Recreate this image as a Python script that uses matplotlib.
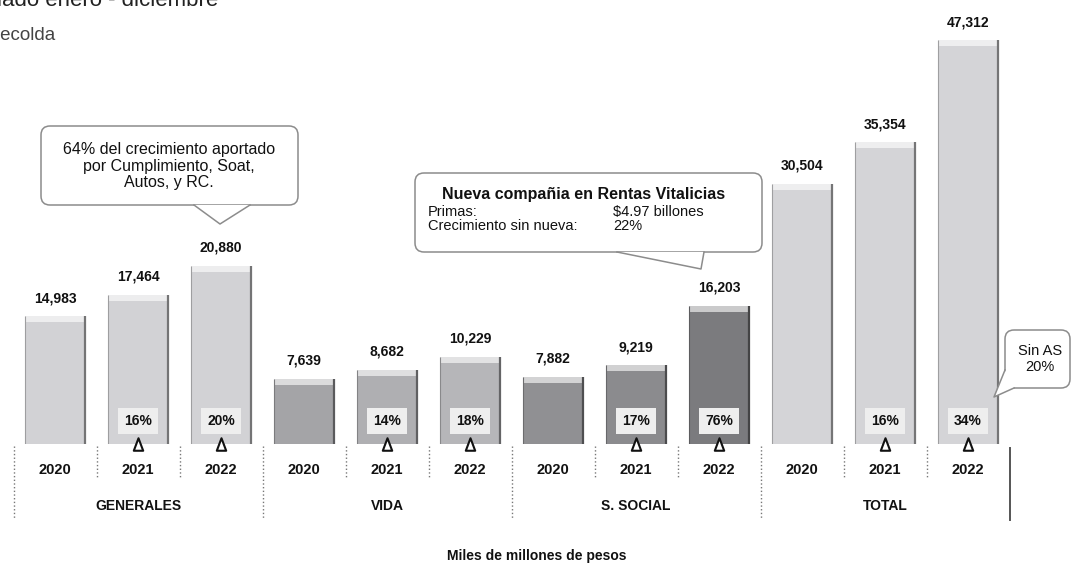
import numpy as np
import matplotlib
matplotlib.use("Agg")
import matplotlib.pyplot as plt
from matplotlib.patches import FancyBboxPatch, Polygon
from matplotlib.path import Path
from matplotlib.transforms import blended_transform_factory
from matplotlib.colors import to_rgb

# ── Datos (miles de millones de pesos) ───────────────────────────────────────
anios = ["2020", "2021", "2022"]
ramos = ["GENERALES", "VIDA", "S. SOCIAL", "TOTAL"]

generales = [14983, 17464, 20880]
vida      = [7639, 8682, 10229]
s_social  = [7882, 9219, 16203]
total     = [30504, 35354, 47312]

# crecimiento anual (%) para 2021 y 2022
crec_generales = [16, 20]
crec_vida      = [14, 18]
crec_s_social  = [17, 76]
crec_total     = [16, 34]

valores = generales + vida + s_social + total
crecimiento = ([None] + crec_generales + [None] + crec_vida +
               [None] + crec_s_social + [None] + crec_total)
x = np.arange(len(valores))

colores = (["#d2d2d5"] * 3 +
           ["#a4a4a7", "#afafb2", "#b6b6b9"] +
           ["#909093", "#8b8b8e", "#7b7b7e"] +
           ["#d4d4d7"] * 3)

NARROW = ["Liberation Sans Narrow", "Liberation Sans", "DejaVu Sans"]
ARIAL  = ["Liberation Sans", "DejaVu Sans"]


def mezcla(c, otro, t):
    a, b = np.array(to_rgb(c)), np.array(to_rgb(otro))
    return tuple(a * (1 - t) + b * t)


W, H = 1073, 567
BASE = 444          # línea base de las barras (px desde arriba)
PX_X = 83           # separación entre barras en px
PX_POR_UNIDAD = 0.008539

fig = plt.figure(figsize=(W / 100, H / 100), dpi=100)

# ejes de las barras
ax = fig.add_axes([0, (H - BASE) / H, 1, BASE / H])
ax.set_xlim(-55 / PX_X, (W - 55) / PX_X)
ax.set_ylim(0, BASE / PX_POR_UNIDAD)
ax.axis("off")

# capa superior en pixeles para textos, tabla y globos
ov = fig.add_axes([0, 0, 1, 1], zorder=3)
ov.set_xlim(0, W)
ov.set_ylim(H, 0)
ov.axis("off")
ov.patch.set_alpha(0)

# ── Barras con efecto de relieve ─────────────────────────────────────────────
ancho = 0.72
valores_arr = np.array(valores, dtype=float)
ax.bar(x, valores_arr, width=ancho, color=colores, edgecolor="none", zorder=2)
tapa = 700
ax.bar(x, tapa, bottom=valores_arr - tapa, width=ancho,
       color=[mezcla(c, "white", 0.6) for c in colores], edgecolor="none", zorder=3)
ax.vlines(x + ancho / 2, 0, valores_arr,
          colors=[mezcla(c, "black", 0.45) for c in colores], lw=1.6, zorder=4)
ax.vlines(x - ancho / 2, 0, valores_arr,
          colors=[mezcla(c, "black", 0.25) for c in colores], lw=0.8, zorder=4)

for xi, v in zip(x, valores):
    ax.annotate(f"{v:,}", (xi, v), xytext=(0, 18), textcoords="offset pixels",
                ha="center", va="center", fontsize=10, fontweight="bold",
                family=NARROW, color="#111111", annotation_clip=False)

# triángulo "delta" angosto, solo contorno
delta = Path([(0, 1), (-0.75, -1), (0.75, -1), (0, 1)],
             [Path.MOVETO, Path.LINETO, Path.LINETO, Path.CLOSEPOLY])
idx = [i for i, c in enumerate(crecimiento) if c is not None]
ax.plot(x[idx], np.zeros(len(idx)), ls="none", marker=delta, ms=9,
        mfc="white", mec="#111111", mew=1.5, clip_on=False, zorder=6)

for xi, c in zip(x, crecimiento):
    if c is None:
        continue
    ax.annotate(f"{c}%", (xi, 0), xytext=(0, 23), textcoords="offset pixels",
                ha="center", va="center", fontsize=10, fontweight="bold",
                family=NARROW, color="#111111", zorder=6,
                bbox=dict(boxstyle="square,pad=0.45", fc="#eeeeee", ec="none"))

# ── Tabla de años y ramos ────────────────────────────────────────────────────
tr = blended_transform_factory(ax.transData, ov.transData)
for xi, anio in zip(x, anios * len(ramos)):
    ov.text(xi, 470, anio, transform=tr, ha="center", va="center",
            fontsize=10.5, fontweight="bold", family=NARROW, color="#111111")
for g, ramo in enumerate(ramos):
    ov.text(3 * g + 1, 506, ramo, transform=tr, ha="center", va="center",
            fontsize=10, fontweight="bold", family=NARROW, color="#111111")
    for k in (0.5, 1.5):
        ov.plot([3 * g + k] * 2, [446, 478], transform=tr,
                ls=":", color="#777777", lw=1)
    ov.plot([3 * g - 0.5] * 2, [446, 518], transform=tr,
            ls=":", color="#777777", lw=1)
ov.plot([3 * len(ramos) - 0.5] * 2, [448, 520], transform=tr,
        color="#555555", lw=1.4)

ov.text(W / 2, 556, "Miles de millones de pesos", ha="center", va="center",
        fontsize=10, fontweight="bold", family=NARROW, color="#111111")

# ── Encabezado ───────────────────────────────────────────────────────────────
ov.text(218, 6, "acumulado enero - diciembre", ha="right", va="baseline",
        fontsize=16, family=ARIAL, color="#222222")
ov.text(56, 35, "Fasecolda", ha="right", va="center",
        fontsize=13.5, family=ARIAL, color="#444444")


# ── Globos de comentario ─────────────────────────────────────────────────────
def globo(x0, y0, x1, y1, base, punta):
    caja = FancyBboxPatch((x0, y0), x1 - x0, y1 - y0,
                          boxstyle="round,pad=0,rounding_size=9",
                          fc="white", ec="#8c8c8c", lw=1.1, zorder=4)
    ov.add_patch(caja)
    ov.add_patch(Polygon([base[0], punta, base[1]], closed=True,
                         fc="white", ec="none", zorder=5))
    ov.plot([base[0][0], punta[0], base[1][0]],
            [base[0][1], punta[1], base[1][1]],
            color="#8c8c8c", lw=1.1, zorder=6)


globo(41, 126, 298, 205, [(194, 205), (250, 205)], (220, 224))
ov.text(169, 166, "64% del crecimiento aportado\npor Cumplimiento, Soat,\nAutos, y RC.",
        ha="center", va="center", fontsize=11.5, family=ARIAL,
        linespacing=1.15, color="#111111", zorder=7)

globo(415, 173, 762, 252, [(617, 252), (704, 252)], (701, 269))
ov.text(584, 195, "Nueva compañia en Rentas Vitalicias", ha="center", va="center",
        fontsize=11.5, fontweight="bold", family=ARIAL, color="#111111", zorder=7)
ov.text(428, 212, "Primas:", ha="left", va="center",
        fontsize=10.5, family=ARIAL, color="#111111", zorder=7)
ov.text(613, 212, "$4.97 billones", ha="left", va="center",
        fontsize=10.5, family=ARIAL, color="#111111", zorder=7)
ov.text(428, 226, "Crecimiento sin nueva:", ha="left", va="center",
        fontsize=10.5, family=ARIAL, color="#111111", zorder=7)
ov.text(613, 226, "22%", ha="left", va="center",
        fontsize=10.5, family=ARIAL, color="#111111", zorder=7)

globo(1005, 330, 1070, 388, [(1005, 370), (1014, 388)], (994, 397))
ov.text(1040, 359, "Sin AS\n20%", ha="center", va="center",
        fontsize=10.5, family=ARIAL, linespacing=1.2, color="#111111", zorder=7)

fig.savefig("out.png", dpi=100)
